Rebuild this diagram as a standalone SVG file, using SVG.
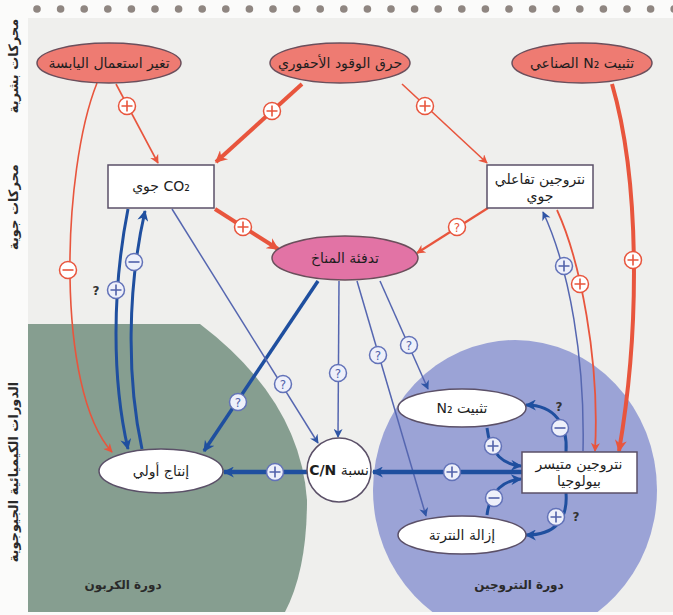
<svg xmlns="http://www.w3.org/2000/svg" xmlns:xlink="http://www.w3.org/1999/xlink" width="673" height="615" viewBox="0 0 673 615">
<style>
.t{font-family:"DejaVu Sans",sans-serif;font-size:14px;fill:#1e1e1e;text-anchor:middle}
.lab{font-family:"DejaVu Sans",sans-serif;font-size:13px;font-weight:bold;fill:#2a2a2a;text-anchor:middle}
.q{font-family:"DejaVu Sans",sans-serif;font-size:12px;font-weight:bold;fill:#333;text-anchor:middle}
.hum{fill:#ee7b72;stroke:#6b4f5c;stroke-width:1.5}
.clim{fill:#e273a5;stroke:#6b4f5c;stroke-width:1.5}
.wn{fill:#fff;stroke:#5b5068;stroke-width:1.5}
.r{fill:none;stroke:#e8553d}
.b{fill:none;stroke:#1f4f9f}
.bt{fill:none;stroke:#5566b0;stroke-width:1.5}
</style>
<defs>
<marker id="ar" viewBox="0 0 10 10" refX="9" refY="5" markerWidth="11" markerHeight="9" markerUnits="userSpaceOnUse" orient="auto"><path d="M0 0L10 5L0 10L3 5Z" fill="#e8553d"/></marker>
<marker id="arL" viewBox="0 0 10 10" refX="9" refY="5" markerWidth="14" markerHeight="12" markerUnits="userSpaceOnUse" orient="auto"><path d="M0 0L10 5L0 10L3 5Z" fill="#e8553d"/></marker>
<marker id="ab" viewBox="0 0 10 10" refX="9" refY="5" markerWidth="13" markerHeight="11" markerUnits="userSpaceOnUse" orient="auto"><path d="M0 0L10 5L0 10L3 5Z" fill="#1f4f9f"/></marker>
<marker id="abt" viewBox="0 0 10 10" refX="9" refY="5" markerWidth="11" markerHeight="9" markerUnits="userSpaceOnUse" orient="auto"><path d="M0 0L10 5L0 10L3 5Z" fill="#2f55a5"/></marker>
<g id="pR"><circle r="8.5" fill="#fff" stroke="#e8553d" stroke-width="1.5"/><path d="M-5.5 0H5.5M0-5.5V5.5" stroke="#e8553d" stroke-width="1.6"/></g>
<g id="mR"><circle r="8.5" fill="#fff" stroke="#e8553d" stroke-width="1.5"/><path d="M-5.5 0H5.5" stroke="#e8553d" stroke-width="1.6"/></g>
<g id="qR"><circle r="8.5" fill="#fff" stroke="#e8553d" stroke-width="1.5"/><text y="4.5" font-family="DejaVu Sans,sans-serif" font-size="12" text-anchor="middle" fill="#e8553d">?</text></g>
<g id="pB"><circle r="8.5" fill="#eef0fa" stroke="#6272b8" stroke-width="1.5"/><path d="M-5.5 0H5.5M0-5.5V5.5" stroke="#5262aa" stroke-width="1.6"/></g>
<g id="mB"><circle r="8.5" fill="#eef0fa" stroke="#6272b8" stroke-width="1.5"/><path d="M-5.5 0H5.5" stroke="#5262aa" stroke-width="1.6"/></g>
<g id="qB"><circle r="8.5" fill="#eef0fa" stroke="#6272b8" stroke-width="1.5"/><text y="4.5" font-family="DejaVu Sans,sans-serif" font-size="12" text-anchor="middle" fill="#5262aa">?</text></g>
<clipPath id="panel"><rect x="28" y="18" width="645" height="594"/></clipPath>
</defs>

<rect width="673" height="615" fill="#fbfbfa"/>
<rect x="28" y="18" width="645" height="594" fill="#efefed"/>
<g fill="#8f8681">
<circle cx="37" cy="9" r="3.8"/><circle cx="60.6" cy="9" r="3.8"/><circle cx="84.2" cy="9" r="3.8"/><circle cx="107.8" cy="9" r="3.8"/><circle cx="131.4" cy="9" r="3.8"/><circle cx="155" cy="9" r="3.8"/><circle cx="178.6" cy="9" r="3.8"/><circle cx="202.2" cy="9" r="3.8"/><circle cx="225.8" cy="9" r="3.8"/><circle cx="249.4" cy="9" r="3.8"/><circle cx="273" cy="9" r="3.8"/><circle cx="296.6" cy="9" r="3.8"/><circle cx="320.2" cy="9" r="3.8"/><circle cx="343.8" cy="9" r="3.8"/><circle cx="367.4" cy="9" r="3.8"/><circle cx="391" cy="9" r="3.8"/><circle cx="414.6" cy="9" r="3.8"/><circle cx="438.2" cy="9" r="3.8"/><circle cx="461.8" cy="9" r="3.8"/><circle cx="485.4" cy="9" r="3.8"/><circle cx="509" cy="9" r="3.8"/><circle cx="532.6" cy="9" r="3.8"/><circle cx="556.2" cy="9" r="3.8"/><circle cx="579.8" cy="9" r="3.8"/><circle cx="603.4" cy="9" r="3.8"/><circle cx="627" cy="9" r="3.8"/><circle cx="650.6" cy="9" r="3.8"/><circle cx="674.2" cy="9" r="3.8"/>
</g>

<g id="regions" clip-path="url(#panel)">
<path d="M27 324L200 324Q300 400 307 500Q307 570 285 612L27 612Z" fill="#869e90"/>
<ellipse cx="515" cy="490" rx="142" ry="150" fill="#9ba3d6"/>
</g>

<g id="side-labels" class="lab">
<text transform="translate(18,66) rotate(-90)">محركات بشرية</text>
<text transform="translate(18,207) rotate(-90)">محركات جوية</text>
<text transform="translate(18,472) rotate(-90)">الدورات الكيميائية الجيوجوية</text>
</g>

<g id="cycle-labels" class="lab">
<text x="123" y="589" style="font-size:12px">دورة الكربون</text>
<text x="519" y="589" style="font-size:12px">دورة النتروجين</text>
</g>

<g id="connectors">
<path class="r" stroke-width="1.6" d="M116 84L158 163" marker-end="url(#ar)"/>
<path class="r" stroke-width="1.6" d="M97 83C62 170 55 390 112 452" marker-end="url(#ar)"/>
<path class="r" stroke-width="4" d="M302 84L216 162" marker-end="url(#arL)"/>
<path class="r" stroke-width="1.6" d="M402 84L487 163" marker-end="url(#ar)"/>
<path class="r" stroke-width="4" d="M215 209L278 249" marker-end="url(#arL)"/>
<path class="r" stroke-width="2.2" d="M488 208L417 253" marker-end="url(#ar)"/>
<path class="r" stroke-width="4" d="M612 84C640 180 640 330 619 451" marker-end="url(#arL)"/>
<path class="r" stroke-width="1.8" d="M557 210C580 260 600 360 595 451" marker-end="url(#ar)"/>
<path class="bt" d="M583 451C585 360 570 270 543 212" marker-end="url(#abt)"/>
<path class="b" stroke-width="3" d="M128 209C112 290 112 380 128 449" marker-end="url(#ab)"/>
<path class="b" stroke-width="3" d="M142 449C127 380 127 290 145 211" marker-end="url(#ab)"/>
<path class="b" stroke-width="3.5" d="M318 281L204 451" marker-end="url(#ab)"/>
<path class="bt" d="M172 209L318 443" marker-end="url(#abt)"/>
<path class="bt" d="M339 281L338 437" marker-end="url(#abt)"/>
<path class="bt" d="M357 281L426 516" marker-end="url(#abt)"/>
<path class="bt" d="M380 281L428 389" marker-end="url(#abt)"/>
<path class="b" stroke-width="4.5" d="M522 472L373 472" marker-end="url(#ab)"/>
<path class="b" stroke-width="4.5" d="M307 472L224 472" marker-end="url(#ab)"/>
<path class="b" stroke-width="3" d="M487 428C490 455 505 465 521 466" marker-end="url(#ab)"/>
<path class="b" stroke-width="3" d="M566 452C568 425 555 405 526 405" marker-end="url(#ab)"/>
<path class="b" stroke-width="3" d="M487 515C490 490 505 480 521 479" marker-end="url(#ab)"/>
<path class="b" stroke-width="3" d="M566 493C568 520 555 535 526 535" marker-end="url(#ab)"/>

<use href="#pR" x="127" y="106"/>
<use href="#mR" x="68" y="270"/>
<use href="#pR" x="272" y="111"/>
<use href="#pR" x="425" y="106"/>
<use href="#pR" x="243" y="227"/>
<use href="#qR" x="457" y="227"/>
<use href="#pR" x="633" y="260"/>
<use href="#pR" x="580" y="284"/>
<use href="#pB" x="564" y="266"/>
<use href="#pB" x="116" y="290"/>
<use href="#mB" x="134" y="262"/>
<use href="#qB" x="238" y="402"/>
<use href="#qB" x="283" y="384"/>
<use href="#qB" x="338" y="373"/>
<use href="#qB" x="378" y="355"/>
<use href="#qB" x="409" y="345"/>
<use href="#pB" x="452" y="472"/>
<use href="#pB" x="275" y="472"/>
<use href="#pB" x="493" y="446"/>
<use href="#mB" x="560" y="428"/>
<use href="#mB" x="494" y="498"/>
<use href="#pB" x="556" y="517"/>
<text class="q" x="96" y="295">?</text>
<text class="q" x="559" y="411">?</text>
<text class="q" x="576" y="521">?</text>
</g>

<g id="n-landuse"><ellipse class="hum" cx="109" cy="63" rx="72" ry="20"/><text class="t" x="109" y="68">تغير استعمال اليابسة</text></g>
<g id="n-fossil"><ellipse class="hum" cx="340" cy="63" rx="70" ry="20"/><text class="t" x="340" y="68">حرق الوقود الأحفوري</text></g>
<g id="n-indfix"><ellipse class="hum" cx="582" cy="63" rx="70" ry="20"/><text class="t" x="582" y="68" direction="rtl">تثبيت N₂ الصناعي</text></g>
<g id="n-co2"><rect class="wn" x="108" y="165" width="106" height="43"/><text class="t" x="161" y="191" direction="rtl">CO₂ جوي</text></g>
<g id="n-reactn"><rect class="wn" x="487" y="165" width="106" height="43"/><text class="t" x="540" y="184">نتروجين تفاعلي</text><text class="t" x="540" y="201">جوي</text></g>
<g id="n-climate"><ellipse class="clim" cx="345" cy="258" rx="73" ry="22"/><text class="t" x="345" y="263">تدفئة المناخ</text></g>
<g id="n-cn"><circle class="wn" cx="339" cy="470" r="32"/><text class="t" x="339" y="475" direction="rtl">نسبة <tspan font-weight="bold">C/N</tspan></text></g>
<g id="n-primary"><ellipse class="wn" cx="161" cy="471" rx="62" ry="22"/><text class="t" x="161" y="476">إنتاج أولي</text></g>
<g id="n-n2fix"><ellipse class="wn" cx="462" cy="408" rx="64" ry="19"/><text class="t" x="462" y="413" direction="rtl">تثبيت N₂</text></g>
<g id="n-bioavail"><rect class="wn" x="522" y="452" width="115" height="41"/><text class="t" x="579" y="469">نتروجين متيسر</text><text class="t" x="579" y="486">بيولوجيا</text></g>
<g id="n-denit"><ellipse class="wn" cx="462" cy="535" rx="64" ry="19"/><text class="t" x="462" y="540">إزالة النترتة</text></g>
</svg>
